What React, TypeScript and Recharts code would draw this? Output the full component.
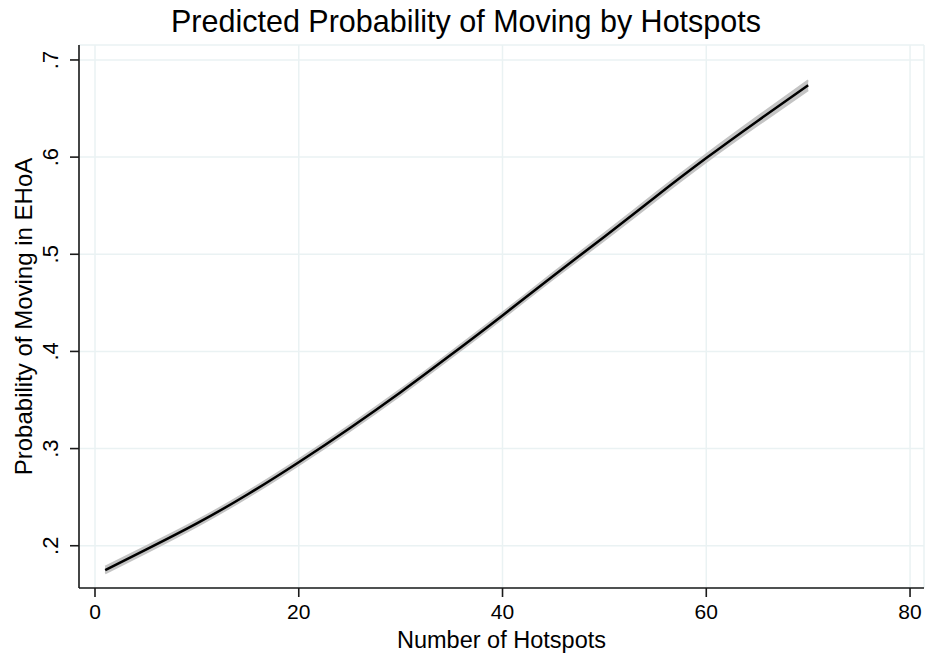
import {
  ComposedChart,
  Area,
  Line,
  XAxis,
  YAxis,
  CartesianGrid,
  Label,
} from "recharts";

// values
const hotspots = [1, 5, 10, 15, 20, 25, 30, 35, 40, 45, 50, 55, 60, 65, 70];
const prob = [
  0.175, 0.196, 0.223, 0.253, 0.286, 0.321, 0.358, 0.397, 0.437, 0.478, 0.518,
  0.559, 0.599, 0.637, 0.674,
];
const ciHalf = [
  0.0035, 0.0033, 0.003, 0.003, 0.003, 0.003, 0.003, 0.003, 0.003, 0.0032,
  0.0035, 0.0038, 0.004, 0.0045, 0.005,
];

const xTicks = [0, 20, 40, 60, 80];
const yTicks = [0.2, 0.3, 0.4, 0.5, 0.6, 0.7];
const yTickLabels = [".2", ".3", ".4", ".5", ".6", ".7"];

const chartData = hotspots.map((h, i) => ({
  hotspots: h,
  prob: prob[i],
  band: [prob[i] - ciHalf[i], prob[i] + ciHalf[i]],
}));

const FONT = "'Liberation Sans', Arial, sans-serif";

const XTick = (props: any) => {
  const { x, y, payload } = props;
  return (
    <text
      x={x}
      y={y}
      dy={20}
      textAnchor="middle"
      fontFamily={FONT}
      fontSize={21}
      fill="#000"
    >
      {payload.value}
    </text>
  );
};

const YTick = (props: any) => {
  const { x, y, payload } = props;
  const idx = yTicks.findIndex((t) => Math.abs(t - payload.value) < 1e-6);
  const tx = x - 10;
  return (
    <text
      x={tx}
      y={y}
      transform={`rotate(-90, ${tx}, ${y})`}
      textAnchor="middle"
      fontFamily={FONT}
      fontSize={22}
      fill="#000"
    >
      {idx >= 0 ? yTickLabels[idx] : payload.value}
    </text>
  );
};

const YTitle = (props: any) => {
  const { viewBox } = props;
  const cx = 32;
  const cy = viewBox.y + viewBox.height / 2;
  return (
    <text
      x={cx}
      y={cy}
      transform={`rotate(-90, ${cx}, ${cy})`}
      textAnchor="middle"
      fontFamily={FONT}
      fontSize={24}
      fill="#000"
    >
      Probability of Moving in EHoA
    </text>
  );
};

export default function App() {
  return (
    <div
      style={{
        position: "absolute",
        left: 0,
        top: 0,
        width: 928,
        height: 654,
        background: "#fff",
      }}
    >
      <div
        style={{
          position: "absolute",
          left: 0,
          top: 0,
          width: 932,
          textAlign: "center",
          fontFamily: FONT,
          fontSize: 30.5,
          lineHeight: "42px",
          color: "#000",
          whiteSpace: "nowrap",
        }}
      >
        Predicted Probability of Moving by Hotspots
      </div>
      <ComposedChart
        width={928}
        height={654}
        data={chartData}
        margin={{ top: 45, right: 4, left: 0, bottom: 0 }}
      >
        <CartesianGrid stroke="#eaf2f3" strokeWidth={1.5} />
        <XAxis
          dataKey="hotspots"
          type="number"
          domain={[-1.57, 81.37]}
          ticks={xTicks}
          allowDataOverflow
          height={66}
          tickSize={9}
          tickMargin={2}
          tick={<XTick />}
          axisLine={{ stroke: "#1a1a1a", strokeWidth: 1.6 }}
          tickLine={{ stroke: "#1a1a1a", strokeWidth: 1.6 }}
        >
          <Label
            value="Number of Hotspots"
            position="insideBottom"
            offset={6}
            style={{ fontFamily: FONT, fontSize: 23.5, fill: "#000" }}
          />
        </XAxis>
        <YAxis
          type="number"
          domain={[0.1565, 0.7154]}
          ticks={yTicks}
          allowDataOverflow
          width={79}
          tickSize={9}
          tickMargin={2}
          tick={<YTick />}
          axisLine={{ stroke: "#1a1a1a", strokeWidth: 1.6 }}
          tickLine={{ stroke: "#1a1a1a", strokeWidth: 1.6 }}
        >
          <Label content={<YTitle />} />
        </YAxis>
        <Area
          dataKey="band"
          type="natural"
          fill="#c4c4c4"
          fillOpacity={1}
          stroke="#c4c4c4"
          strokeWidth={2}
          isAnimationActive={false}
          dot={false}
          activeDot={false}
        />
        <Line
          dataKey="prob"
          type="natural"
          stroke="#000"
          strokeWidth={2.5}
          dot={false}
          activeDot={false}
          isAnimationActive={false}
        />
      </ComposedChart>
    </div>
  );
}
